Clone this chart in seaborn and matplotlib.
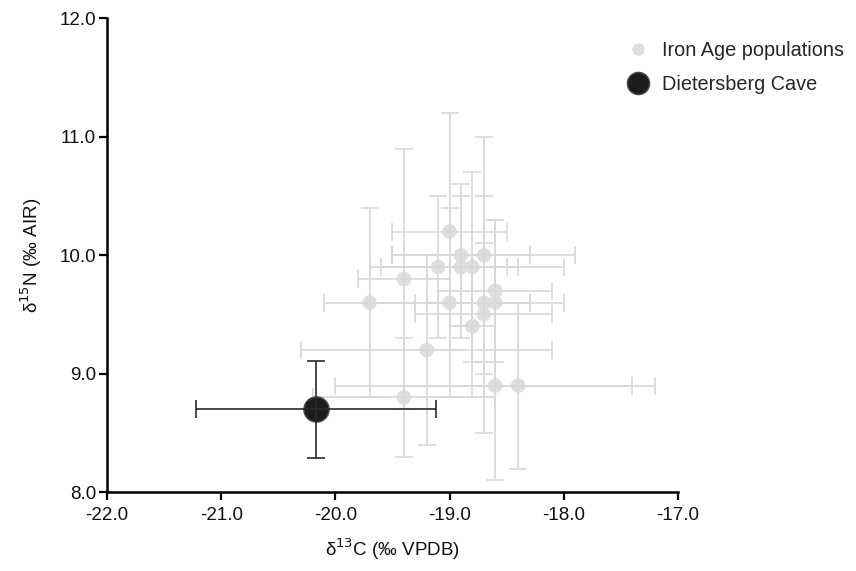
import matplotlib
matplotlib.use("Agg")
import matplotlib.pyplot as plt
from matplotlib.lines import Line2D
import seaborn as sns
import pandas as pd

# Iron Age reference populations: mean ± SD for δ13C and δ15N
iron_c = [-19.7, -19.4, -19.4, -19.2, -19.1, -19.0, -19.0, -18.9, -18.9,
          -18.8, -18.8, -18.7, -18.7, -18.7, -18.6, -18.6, -18.6, -18.4]
iron_n = [9.6, 9.8, 8.8, 9.2, 9.9, 10.2, 9.6, 10.0, 9.9,
          9.9, 9.4, 10.0, 9.6, 9.5, 9.7, 9.6, 8.9, 8.9]
iron_c_sd = [0.4, 0.4, 0.8, 1.1, 0.6, 0.5, 0.7, 0.6, 0.5,
             0.8, 0.2, 0.8, 0.4, 0.6, 0.5, 0.6, 1.4, 1.0]
iron_n_sd = [0.8, 1.1, 0.5, 0.8, 0.6, 1.0, 0.8, 0.6, 0.6,
             0.8, 0.6, 1.0, 0.5, 1.0, 0.6, 0.7, 0.8, 0.7]

# Dietersberg Cave
cave_c = [-20.17]
cave_n = [8.7]
cave_c_sd = [1.05]
cave_n_sd = [0.41]

x_ticks = [-22.0, -21.0, -20.0, -19.0, -18.0, -17.0]
y_ticks = [8.0, 9.0, 10.0, 11.0, 12.0]

sns.set_theme(style="ticks")
plt.rcParams["font.family"] = ["Liberation Sans", "DejaVu Sans"]

iron = pd.DataFrame({"c": iron_c, "n": iron_n})
cave = pd.DataFrame({"c": cave_c, "n": cave_n})

fig, ax = plt.subplots(figsize=(8.56, 5.71), dpi=100)
fig.subplots_adjust(left=0.125, right=0.792, top=0.968, bottom=0.138)

grey = "#dedede"
sns.scatterplot(data=iron, x="c", y="n", ax=ax, s=110, color=grey,
                edgecolor="none", zorder=2, legend=False)
ax.errorbar(iron_c, iron_n, xerr=iron_c_sd, yerr=iron_n_sd, fmt="none",
            ecolor="#d8d8d8", elinewidth=1.2, capsize=6.5, capthick=1.2,
            zorder=3)

sns.scatterplot(data=cave, x="c", y="n", ax=ax, s=330, color="#1c1c1c",
                edgecolor="#4a4a4a", linewidth=1.0, zorder=4, legend=False)
ax.errorbar(cave_c, cave_n, xerr=cave_c_sd, yerr=cave_n_sd, fmt="none",
            ecolor="#2a2a2a", elinewidth=1.2, capsize=6.5, capthick=1.2,
            zorder=5)

ax.set_xlim(-22.0, -17.0)
ax.set_ylim(8.0, 12.0)
ax.set_xticks(x_ticks)
ax.set_yticks(y_ticks)
ax.set_xticklabels([f"{v:.1f}" for v in x_ticks])
ax.set_yticklabels([f"{v:.1f}" for v in y_ticks])
ax.tick_params(axis="both", direction="out", length=5.5, width=1.6,
               color="black", labelsize=13.5, labelcolor="#111111")
ax.tick_params(axis="x", pad=5)
ax.tick_params(axis="y", pad=2.5)
for side in ("left", "bottom"):
    ax.spines[side].set_linewidth(1.8)
    ax.spines[side].set_color("black")
sns.despine(ax=ax)

ax.set_xlabel(r"δ$^{13}$C (‰ VPDB)", fontsize=13.5, labelpad=9, color="#111111")
ax.set_ylabel(r"δ$^{15}$N (‰ AIR)", fontsize=13.5, labelpad=11, color="#111111")

handles = [
    Line2D([0], [0], marker="o", linestyle="none", markersize=9,
           markerfacecolor=grey, markeredgecolor="none"),
    Line2D([0], [0], marker="o", linestyle="none", markersize=16,
           markerfacecolor="#1c1c1c", markeredgecolor="#4a4a4a",
           markeredgewidth=1.0),
]
fig.legend(handles, ["Iron Age populations", "Dietersberg Cave"],
           loc="upper left", bbox_to_anchor=(0.724, 0.929), frameon=False,
           fontsize=14.3, handlelength=1.85, handletextpad=0.3,
           labelspacing=0.78, borderaxespad=0, borderpad=0)

fig.savefig("out.png", dpi=100)
